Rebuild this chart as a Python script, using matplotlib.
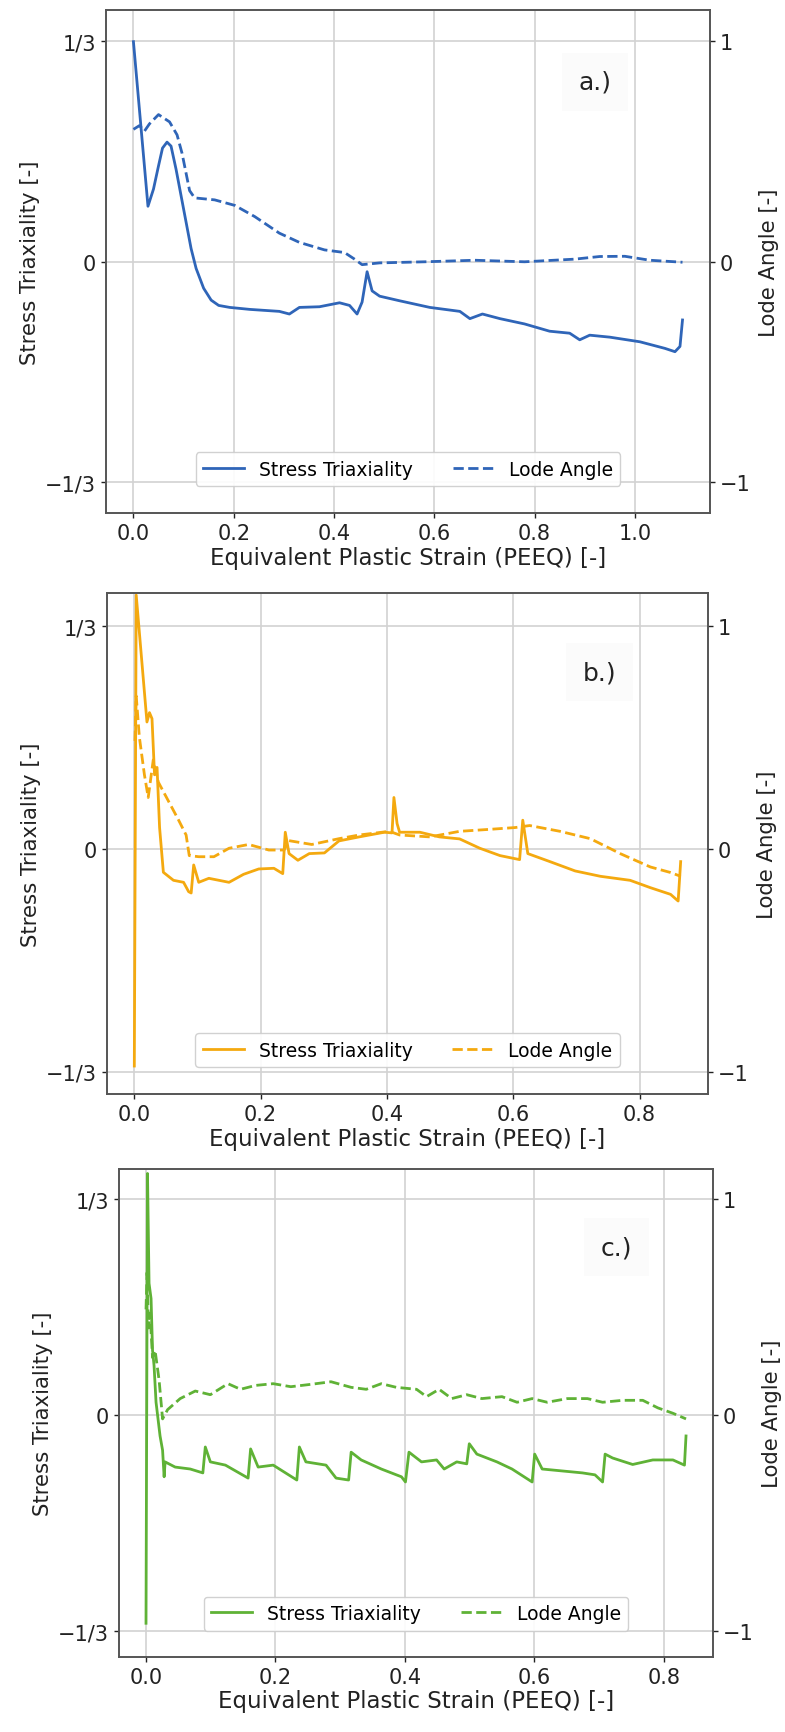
import numpy as np
import matplotlib.pyplot as plt

# ---- panel a (blue) ----
a_tri_x = [0, 0.029, 0.04, 0.05, 0.058, 0.067, 0.075, 0.085, 0.095, 0.105, 0.115, 0.125, 0.14,
           0.155, 0.17, 0.192, 0.232, 0.291, 0.311, 0.331, 0.371, 0.411, 0.431, 0.446, 0.456,
           0.466, 0.476, 0.491, 0.531, 0.591, 0.651, 0.671, 0.696, 0.731, 0.780, 0.830, 0.870,
           0.890, 0.910, 0.950, 1.010, 1.060, 1.080, 1.090, 1.095]
a_tri_y = [0.333, 0.084, 0.11, 0.145, 0.172, 0.181, 0.175, 0.14, 0.1, 0.06, 0.02, -0.01, -0.04,
           -0.058, -0.066, -0.069, -0.072, -0.075, -0.079, -0.069, -0.068, -0.062, -0.066, -0.079,
           -0.061, -0.015, -0.044, -0.052, -0.059, -0.069, -0.075, -0.086, -0.079, -0.086, -0.094,
           -0.105, -0.108, -0.118, -0.111, -0.114, -0.121, -0.131, -0.136, -0.128, -0.088]
a_lode_x = [0, 0.012, 0.022, 0.032, 0.05, 0.072, 0.087, 0.097, 0.112, 0.122, 0.162, 0.202, 0.242,
            0.291, 0.331, 0.381, 0.421, 0.441, 0.456, 0.491, 0.581, 0.681, 0.780, 0.880, 0.930,
            0.980, 1.030, 1.095]
a_lode_y = [0.601, 0.618, 0.593, 0.626, 0.668, 0.635, 0.576, 0.492, 0.323, 0.29, 0.281, 0.256,
            0.205, 0.13, 0.088, 0.054, 0.042, 0.012, -0.013, -0.005, 0.0, 0.007, 0.0, 0.012, 0.024,
            0.025, 0.007, -0.002]

# ---- panel b (orange) ----
b_tri_x = [0, 0.003, 0.014, 0.02, 0.024, 0.028, 0.032, 0.036, 0.04, 0.046, 0.062, 0.078, 0.086,
           0.09, 0.094, 0.102, 0.118, 0.134, 0.15, 0.173, 0.197, 0.221, 0.235, 0.239, 0.245, 0.259,
           0.277, 0.301, 0.324, 0.356, 0.396, 0.408, 0.411, 0.416, 0.42, 0.452, 0.483, 0.515,
           0.547, 0.579, 0.61, 0.615, 0.623, 0.658, 0.698, 0.738, 0.785, 0.817, 0.849, 0.861, 0.865]
b_tri_y = [-0.325, 0.38, 0.257, 0.19, 0.204, 0.195, 0.111, 0.122, 0.032, -0.035, -0.047, -0.05,
           -0.064, -0.066, -0.024, -0.05, -0.044, -0.047, -0.05, -0.038, -0.03, -0.029, -0.037,
           0.025, -0.007, -0.017, -0.007, -0.006, 0.012, 0.018, 0.025, 0.024, 0.077, 0.038, 0.025,
           0.025, 0.018, 0.015, 0.001, -0.01, -0.016, 0.043, -0.007, -0.019, -0.033, -0.041,
           -0.047, -0.058, -0.068, -0.078, -0.019]
b_lode_x = [0.001, 0.003, 0.008, 0.016, 0.022, 0.03, 0.038, 0.054, 0.07, 0.082, 0.087, 0.102,
            0.126, 0.15, 0.181, 0.213, 0.237, 0.245, 0.281, 0.324, 0.356, 0.404, 0.42, 0.468,
            0.515, 0.563, 0.603, 0.626, 0.674, 0.722, 0.77, 0.817, 0.849, 0.865]
b_lode_y = [0.485, 0.687, 0.502, 0.333, 0.231, 0.4, 0.3, 0.215, 0.13, 0.0625, -0.03, -0.035,
            -0.035, 0.003, 0.02, -0.005, -0.005, 0.037, 0.02, 0.046, 0.0625, 0.079, 0.0625, 0.054,
            0.079, 0.088, 0.096, 0.105, 0.079, 0.046, -0.022, -0.081, -0.106, -0.123]

# ---- panel c (green) ----
c_tri_x = [0, 0.0023, 0.0047, 0.0078, 0.0101, 0.0124, 0.0155, 0.0217, 0.0256, 0.028, 0.0295,
           0.045, 0.0683, 0.0878, 0.0916, 0.0994, 0.1227, 0.1577, 0.1616, 0.1732, 0.1965, 0.233,
           0.2369, 0.247, 0.2781, 0.2936, 0.313, 0.3169, 0.3324, 0.3635, 0.3946, 0.4008, 0.4062,
           0.4256, 0.4489, 0.4606, 0.48, 0.4955, 0.4994, 0.5111, 0.5421, 0.5654, 0.5965, 0.6004,
           0.612, 0.6431, 0.6742, 0.6936, 0.7053, 0.7092, 0.7208, 0.7518, 0.7829, 0.814, 0.8318,
           0.8342]
c_tri_y = [-0.321, 0.373, 0.2035, 0.18, 0.1, 0.077, 0.02, -0.032, -0.054, -0.095, -0.072, -0.08,
           -0.083, -0.089, -0.049, -0.072, -0.077, -0.097, -0.052, -0.08, -0.077, -0.1, -0.049,
           -0.072, -0.077, -0.097, -0.1, -0.057, -0.069, -0.083, -0.095, -0.103, -0.057, -0.072,
           -0.069, -0.083, -0.072, -0.075, -0.044, -0.06, -0.072, -0.083, -0.103, -0.06, -0.083,
           -0.086, -0.089, -0.092, -0.103, -0.06, -0.066, -0.076, -0.069, -0.069, -0.077, -0.032]
c_lode_x = [0, 0.0016, 0.0039, 0.0062, 0.0101, 0.014, 0.0202, 0.0256, 0.0334, 0.0528, 0.0761,
            0.0994, 0.1266, 0.146, 0.1693, 0.1965, 0.2237, 0.2548, 0.2858, 0.3169, 0.3402, 0.3635,
            0.3868, 0.4179, 0.4334, 0.4528, 0.4722, 0.4955, 0.5188, 0.5499, 0.5732, 0.5965,
            0.6198, 0.6509, 0.6819, 0.7053, 0.7363, 0.7674, 0.7907, 0.814, 0.8342]
c_lode_y = [0.49, 0.66, 0.404, 0.473, 0.267, 0.3, 0.163, -0.017, 0.026, 0.077, 0.112, 0.095,
            0.146, 0.12, 0.138, 0.146, 0.132, 0.143, 0.155, 0.129, 0.12, 0.146, 0.129, 0.12, 0.086,
            0.12, 0.077, 0.095, 0.077, 0.086, 0.06, 0.077, 0.06, 0.077, 0.077, 0.06, 0.069, 0.069,
            0.034, 0.009, -0.017]

panel_labels = ['a.)', 'b.)', 'c.)']
colors = ['#2f65b8', '#f4a90f', '#5fb236']
xticks = [[0.0, 0.2, 0.4, 0.6, 0.8, 1.0], [0.0, 0.2, 0.4, 0.6, 0.8], [0.0, 0.2, 0.4, 0.6, 0.8]]

panels = [(a_tri_x, a_tri_y, a_lode_x, a_lode_y),
          (b_tri_x, b_tri_y, b_lode_x, b_lode_y),
          (c_tri_x, c_tri_y, c_lode_x, c_lode_y)]
rects = [[0.135, 0.7034, 0.7694, 0.2903],
         [0.1363, 0.3681, 0.7656, 0.2891],
         [0.1516, 0.0433, 0.7567, 0.2816]]
ylims = [(-0.38, 0.381), (-0.367, 0.383), (-0.373, 0.38)]
label_pos = [(0.81, 0.857), (0.82, 0.842), (0.837, 0.84)]

txt = '#222222'
fig = plt.figure(figsize=(7.85, 17.33), dpi=100)

for i, (tx, ty, lx, ly) in enumerate(panels):
    ax = fig.add_axes(rects[i])
    ax2 = ax.twinx()
    col = colors[i]
    l1, = ax.plot(tx, ty, color=col, lw=2, label='Stress Triaxiality')
    l2, = ax2.plot(lx, ly, color=col, lw=2, ls='--', label='Lode Angle')
    ax.set_ylim(*ylims[i])
    ax2.set_ylim(3 * ylims[i][0], 3 * ylims[i][1])
    ax.set_xticks(xticks[i])
    ax.set_yticks([-1/3, 0, 1/3])
    ax.set_yticklabels(['\u22121/3', '0', '1/3'])
    ax2.set_yticks([-1, 0, 1])
    ax2.set_yticklabels(['\u22121', '0', '1'])
    ax.grid(True, color='#d2d2d2', lw=1.2)
    for a in (ax, ax2):
        a.tick_params(labelsize=15, colors=txt, width=1)
        for s in a.spines.values():
            s.set_color('#555555')
            s.set_linewidth(1.2)
    ax.set_xlabel('Equivalent Plastic Strain (PEEQ) [-]', fontsize=16.5, color=txt, labelpad=2)
    ax.set_ylabel('Stress Triaxiality [-]', fontsize=15.3, color=txt, labelpad=4)
    ax2.set_ylabel('Lode Angle [-]', fontsize=15.3, color=txt, labelpad=6)
    ax2.legend([l1, l2], ['Stress Triaxiality', 'Lode Angle'], loc='lower center',
               bbox_to_anchor=(0.5, 0.035), ncol=2, fontsize=13.5, columnspacing=2.1,
               handlelength=2.2, handletextpad=0.8, framealpha=0.9)
    ax2.text(label_pos[i][0], label_pos[i][1], panel_labels[i], transform=ax.transAxes,
             fontsize=18, color=txt, ha='center', va='center',
             bbox=dict(facecolor='#fbfbfb', edgecolor='none', pad=12))

fig.savefig('out.png', dpi=100)
